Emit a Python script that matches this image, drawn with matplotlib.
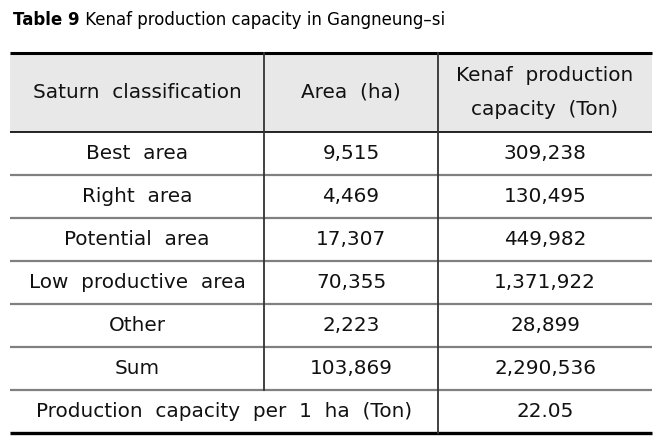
import matplotlib
matplotlib.use("Agg")
import matplotlib.pyplot as plt

title_bold = "Table 9"
title_rest = " Kenaf production capacity in Gangneung\u2013si"
headers = ["Saturn  classification", "Area  (ha)", "Kenaf  production\ncapacity  (Ton)"]
categories = ["Best  area", "Right  area", "Potential  area", "Low  productive  area", "Other", "Sum"]
area_ha = ["9,515", "4,469", "17,307", "70,355", "2,223", "103,869"]
capacity_ton = ["309,238", "130,495", "449,982", "1,371,922", "28,899", "2,290,536"]
footer_label = "Production  capacity  per  1  ha  (Ton)"
footer_value = "22.05"

W, H = 671, 436
fig = plt.figure(figsize=(W / 100, H / 100), dpi=100)
ax = fig.add_axes([0, 0, 1, 1])
ax.set_xlim(0, W)
ax.set_ylim(H, 0)
ax.axis("off")

FONT = "DejaVu Sans"
fs = 14.4
x0, x1, x2, x3 = 10, 264, 438, 652
top, head_bot = 53, 132
row_h = 43
n_rows = len(categories) + 1
bottom = head_bot + row_h * n_rows

# title
t = ax.text(13, 20, title_bold, fontsize=12, fontweight="bold", family=FONT, va="center", ha="left")
fig.canvas.draw()
bb = t.get_window_extent()
xe = ax.transData.inverted().transform((bb.x1, 0))[0]
ax.text(xe, 20, title_rest, fontsize=12, family=FONT, va="center", ha="left")

# header background
ax.add_patch(plt.Rectangle((x0, top), x3 - x0, head_bot - top, facecolor="#e8e8e8", edgecolor="none"))

# lines
ax.plot([x0, x3], [top, top], color="black", lw=2.2, solid_capstyle="butt")
ax.plot([x0, x3], [head_bot, head_bot], color="black", lw=1.2, solid_capstyle="butt")
for i in range(1, n_rows):
    y = head_bot + row_h * i
    ax.plot([x0, x3], [y, y], color="#808080", lw=1.6, solid_capstyle="butt")
ax.plot([x0, x3], [bottom, bottom], color="black", lw=2.4, solid_capstyle="butt")
ax.plot([x1, x1], [top, head_bot + row_h * len(categories)], color="#333333", lw=1.3)
ax.plot([x2, x2], [top, bottom], color="#333333", lw=1.3)

cx = [(x0 + x1) / 2, (x1 + x2) / 2, (x2 + x3) / 2]
hy = (top + head_bot) / 2
for c, h in zip(cx, headers):
    ax.text(c, hy, h, fontsize=fs, family=FONT, ha="center", va="center", linespacing=1.95, color="#111111")

for i, (cat, a, cap) in enumerate(zip(categories, area_ha, capacity_ton)):
    y = head_bot + row_h * (i + 0.5)
    for c, s in zip(cx, [cat, a, cap]):
        ax.text(c, y, s, fontsize=fs, family=FONT, ha="center", va="center", color="#111111")

y = head_bot + row_h * (len(categories) + 0.5)
ax.text((x0 + x2) / 2, y, footer_label, fontsize=fs, family=FONT, ha="center", va="center", color="#111111")
ax.text(cx[2], y, footer_value, fontsize=fs, family=FONT, ha="center", va="center", color="#111111")

fig.savefig("out.png", dpi=100)
